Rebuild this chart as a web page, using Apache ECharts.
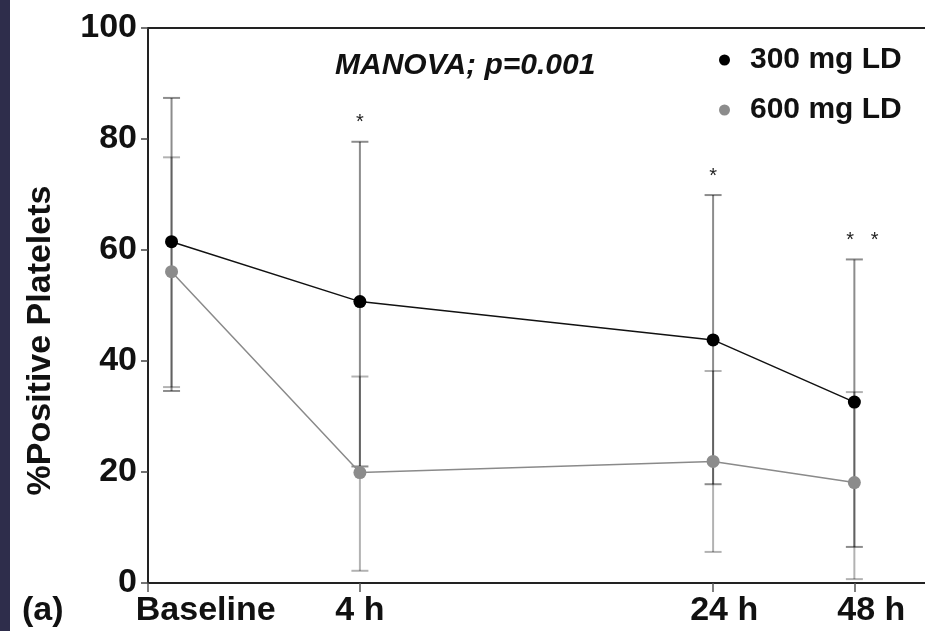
<!DOCTYPE html>
<html>
<head>
<meta charset="utf-8">
<script src="https://cdn.jsdelivr.net/npm/echarts@6/dist/echarts.min.js"></script>
<style>html,body{margin:0;padding:0;background:#fff}#chart{width:925px;height:631px}</style>
</head>
<body>
<div id="chart"></div>
<script>
// ---- data ----
const categories = ['Baseline', '4 h', '24 h', '48 h'];
const mean300 = [61.5, 50.7, 43.8, 32.6];
const upper300 = [87.4, 79.5, 69.9, 58.3];
const lower300 = [34.6, 21.0, 17.8, 6.5];
const mean600 = [56.1, 19.9, 21.9, 18.1];
const upper600 = [76.7, 37.2, 38.2, 34.4];
const lower600 = [35.3, 2.2, 5.6, 0.7];
const significance = ['', '*', '*', '* *'];
const seriesNames = ['300 mg LD', '600 mg LD'];
const yTicks = [0, 20, 40, 60, 80, 100];
const annotation = 'MANOVA; p=0.001';
const yTitle = '%Positive Platelets';
const panelLabel = '(a)';

// ---- layout (axis units) ----
const xPositions = [0, 8, 23, 29];
const labelPositions = [1.45, 8, 23.47, 29.72];

const FONT = '"Liberation Sans", Arial, Helvetica, sans-serif';

function pts(vals) { return vals.map((v, i) => [xPositions[i], v]); }
function bars(lo, hi) { return lo.map((v, i) => [xPositions[i], v, hi[i]]); }

function errorBar(color, withSig) {
  return function (params, api) {
    const x = api.value(0), lo = api.value(1), hi = api.value(2);
    const pHi = api.coord([x, hi]);
    const pLo = api.coord([x, lo]);
    const hw = 8.5;
    const style = { stroke: color, lineWidth: 2 };
    const children = [
      { type: 'line', shape: { x1: pHi[0], y1: pHi[1], x2: pLo[0], y2: pLo[1] }, style: style },
      { type: 'line', shape: { x1: pHi[0] - hw, y1: pHi[1], x2: pHi[0] + hw, y2: pHi[1] }, style: style },
      { type: 'line', shape: { x1: pLo[0] - hw, y1: pLo[1], x2: pLo[0] + hw, y2: pLo[1] }, style: style }
    ];
    const s = withSig ? significance[params.dataIndex] : '';
    if (s) {
      children.push({
        type: 'text',
        style: {
          text: s.replace(' ', '   '), x: pHi[0] + (s.length > 1 ? 8 : 0), y: pHi[1] - 19,
          fill: '#222', font: '20px ' + FONT, align: 'center', verticalAlign: 'middle'
        }
      });
    }
    return { type: 'group', children: children };
  };
}

const chart = echarts.init(document.getElementById('chart'), null, { renderer: 'canvas' });
chart.setOption({
  backgroundColor: '#ffffff',
  animation: false,
  grid: { left: 148, right: 0, top: 28, bottom: 48, containLabel: false },
  graphic: [
    { type: 'rect', left: 0, top: 0, shape: { width: 10, height: 631 }, style: { fill: '#2e2d4b' } },
    { type: 'text', left: 22, top: 594, style: { text: panelLabel, font: 'bold 34px ' + FONT, fill: '#111' } },
    { type: 'text', left: 335, top: 51, style: { text: annotation, font: 'italic bold 30px ' + FONT, fill: '#111' } }
  ],
  legend: {
    orient: 'vertical', left: 714, top: 40,
    icon: 'circle', itemWidth: 11, itemHeight: 11, itemGap: 20,
    textStyle: { fontFamily: FONT, fontSize: 30, fontWeight: 'bold', color: '#111', padding: [0, 0, 0, 15], lineHeight: 30 },
    data: seriesNames
  },
  xAxis: [
    {
      type: 'value', min: -1, max: 32, position: 'bottom',
      axisLine: { show: true, onZero: false, lineStyle: { color: '#222', width: 2 } },
      axisTick: { show: true, length: 9, customValues: [-1].concat(xPositions.slice(1)), lineStyle: { color: '#555', width: 1.5 } },
      axisLabel: {
        customValues: labelPositions,
        formatter: function (v) { const i = labelPositions.indexOf(v); return i >= 0 ? categories[i] : ''; },
        fontFamily: FONT, fontSize: 34, fontWeight: 'bold', color: '#111', margin: 11
      },
      splitLine: { show: false }
    },
    {
      type: 'value', min: -1, max: 32, position: 'top',
      axisLine: { show: true, onZero: false, lineStyle: { color: '#222', width: 2 } },
      axisTick: { show: false }, axisLabel: { show: false }, splitLine: { show: false }
    }
  ],
  yAxis: {
    type: 'value', min: yTicks[0], max: yTicks[yTicks.length - 1], interval: 20, position: 'left',
    name: yTitle, nameLocation: 'middle', nameRotate: 90, nameGap: 90,
    nameTextStyle: { fontFamily: FONT, fontSize: 34, fontWeight: 'bold', color: '#111', padding: [0, 70, 0, 0] },
    axisLine: { show: true, onZero: false, lineStyle: { color: '#222', width: 2 } },
    axisTick: { show: true, length: 7, lineStyle: { color: '#444', width: 1.5 } },
    axisLabel: { fontFamily: FONT, fontSize: 34, fontWeight: 'bold', color: '#111', margin: 11, padding: [0, 0, 12, 0] },
    splitLine: { show: false }
  },
  series: [
    {
      type: 'custom', name: seriesNames[0] + ' SD', renderItem: errorBar('rgba(0,0,0,0.45)', true),
      data: bars(lower300, upper300), encode: { x: 0, y: [1, 2] }, z: 1, silent: true
    },
    {
      type: 'custom', name: seriesNames[1] + ' SD', renderItem: errorBar('rgba(0,0,0,0.3)', false),
      data: bars(lower600, upper600), encode: { x: 0, y: [1, 2] }, z: 1, silent: true
    },
    {
      type: 'line', name: seriesNames[1], data: pts(mean600), z: 3,
      symbol: 'circle', symbolSize: 13,
      itemStyle: { color: '#8c8c8c' }, lineStyle: { color: '#8a8a8a', width: 1.5 }
    },
    {
      type: 'line', name: seriesNames[0], data: pts(mean300), z: 4,
      symbol: 'circle', symbolSize: 13,
      itemStyle: { color: '#000000' }, lineStyle: { color: '#111111', width: 1.5 }
    }
  ]
});
</script>
</body>
</html>
